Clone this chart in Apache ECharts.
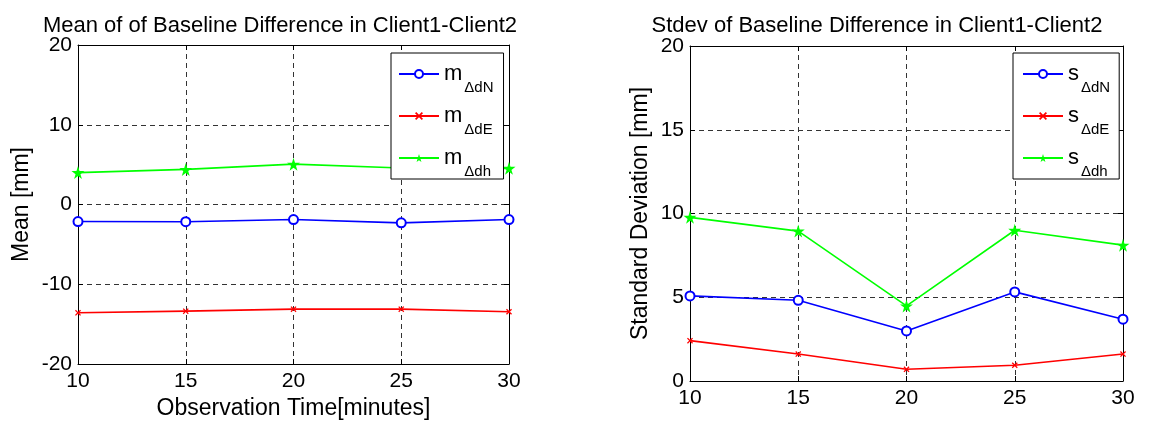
<!DOCTYPE html>
<html><head><meta charset="utf-8">
<script src="https://cdn.jsdelivr.net/npm/echarts/dist/echarts.min.js"></script>
<style>html,body{margin:0;padding:0;background:#fff}#c{width:1152px;height:425px}</style>
</head><body><div id="c"></div>
<script>
const times = [10, 15, 20, 25, 30];
const meanN = [-2.14, -2.16, -1.89, -2.30, -1.89];
const meanE = [-13.58, -13.37, -13.12, -13.12, -13.45];
const meanH = [4.00, 4.40, 5.06, 4.57, 4.53];
const stdN = [5.08, 4.82, 2.99, 5.32, 3.69];
const stdE = [2.41, 1.61, 0.70, 0.94, 1.61];
const stdH = [9.77, 8.95, 4.48, 9.00, 8.11];
const meanTicks = [-20, -10, 0, 10, 20];
const stdTicks = [0, 5, 10, 15, 20];
const timeTicks = [10, 15, 20, 25, 30];
const meanNames = ['m_\u0394dN', 'm_\u0394dE', 'm_\u0394dh'];
const stdNames = ['s_\u0394dN', 's_\u0394dE', 's_\u0394dh'];
const titles = ['Mean of of Baseline Difference in Client1-Client2', 'Stdev of Baseline Difference in Client1-Client2'];

const FONT = '"Liberation Sans", Arial, sans-serif';
const STAR = 'path://M50,0 L61,35 L98,35 L68,57 L79,91 L50,70 L21,91 L32,57 L2,35 L39,35 Z';
const XMARK = 'path://M0,1.5 L1.5,0 L5,3.5 L8.5,0 L10,1.5 L6.5,5 L10,8.5 L8.5,10 L5,6.5 L1.5,10 L0,8.5 L3.5,5 Z';
const colors = ['#0000ff', '#ff0000', '#00ff00'];
const symbols = ['emptyCircle', XMARK, STAR];
const symSizes = [9, 6, 13];

const chart = echarts.init(document.getElementById('c'));

function xAxes(g) {
  const base = {
    type: 'value', gridIndex: g, min: timeTicks[0], max: timeTicks[timeTicks.length - 1],
    interval: timeTicks[1] - timeTicks[0],
    axisLine: { show: true, onZero: false, lineStyle: { color: '#000', width: 1 } },
    axisTick: { show: true, inside: true, length: 5, lineStyle: { color: '#000' } }
  };
  return [
    Object.assign({}, base, {
      position: 'bottom',
      axisLabel: { color: '#000', fontSize: 21, fontFamily: FONT, margin: 7 },
      splitLine: { show: true, lineStyle: { color: '#333', type: [5, 4], width: 1 } },
      name: g === 0 ? 'Observation Time[minutes]' : '', nameLocation: 'middle', nameGap: 33,
      nameTextStyle: { color: '#000', fontSize: 23, fontFamily: FONT, verticalAlign: 'top' }
    }),
    Object.assign({}, base, { position: 'top', axisLabel: { show: false }, splitLine: { show: false } })
  ];
}
function yAxes(g, ticks, name, gap) {
  const base = {
    type: 'value', gridIndex: g, min: ticks[0], max: ticks[ticks.length - 1],
    interval: ticks[1] - ticks[0],
    axisLine: { show: true, onZero: false, lineStyle: { color: '#000', width: 1 } },
    axisTick: { show: true, inside: true, length: 5, lineStyle: { color: '#000' } }
  };
  return [
    Object.assign({}, base, {
      position: 'left',
      axisLabel: { color: '#000', fontSize: 21, fontFamily: FONT, margin: 6 },
      splitLine: { show: true, lineStyle: { color: '#333', type: [5, 4], width: 1 } },
      name: name, nameLocation: 'middle', nameGap: gap,
      nameTextStyle: { color: '#000', fontSize: 23, fontFamily: FONT }
    }),
    Object.assign({}, base, { position: 'right', axisLabel: { show: false }, splitLine: { show: false } })
  ];
}
function mkSeries(names, arrs, xi, yi) {
  return names.map((n, k) => ({
    type: 'line', name: n, xAxisIndex: xi, yAxisIndex: yi,
    data: times.map((t, i) => [t, arrs[k][i]]),
    symbol: symbols[k], symbolSize: symSizes[k], showAllSymbol: true,
    lineStyle: { color: colors[k], width: 1.6 },
    itemStyle: { color: colors[k], borderColor: colors[k], borderWidth: k === 0 ? 1.6 : 0 },
    emphasis: { disabled: true }, animation: false, z: 3
  }));
}
function mkLegend(names, left, top, pad) {
  return {
    data: names,
    orient: 'vertical', left: left, top: top, padding: pad,
    itemWidth: 40, itemHeight: 10, itemGap: 10,
    backgroundColor: '#fff', borderColor: '#000', borderWidth: 1, borderRadius: 0,
    selectedMode: false,
    formatter: function (name) {
      const p = name.split('_');
      return '{a|' + p[0] + '}{b|' + p[1] + '}';
    },
    textStyle: {
      color: '#000', fontFamily: FONT,
      rich: {
        a: { fontSize: 22, fontFamily: FONT, color: '#000', lineHeight: 42, verticalAlign: 'middle' },
        b: { fontSize: 15, fontFamily: FONT, color: '#000', lineHeight: 18, verticalAlign: 'bottom', padding: [0, 0, 0, 2] }
      }
    }
  };
}

const option = {
  backgroundColor: '#fff',
  animation: false,
  title: [
    { text: titles[0], left: 275, top: 10, textAlign: 'center', textStyle: { fontSize: 22, fontWeight: 'normal', color: '#000', fontFamily: FONT } },
    { text: titles[1], left: 872, top: 10, textAlign: 'center', textStyle: { fontSize: 22, fontWeight: 'normal', color: '#000', fontFamily: FONT } }
  ],
  grid: [
    { left: 78, top: 45, width: 431, height: 324, show: false },
    { left: 690, top: 46, width: 433, height: 335, show: false }
  ],
  legend: [
    mkLegend(meanNames, 391, 53, [10, 10, 0, 7]),
    mkLegend(stdNames, 1013, 53, [10, 9, 0, 9])
  ],
  xAxis: [].concat(xAxes(0), xAxes(1)),
  yAxis: [].concat(yAxes(0, meanTicks, 'Mean [mm]', 45), yAxes(1, stdTicks, 'Standard Deviation [mm]', 38)),
  series: [].concat(mkSeries(meanNames, [meanN, meanE, meanH], 0, 0), mkSeries(stdNames, [stdN, stdE, stdH], 2, 2))
};
chart.setOption(option);
</script></body></html>
